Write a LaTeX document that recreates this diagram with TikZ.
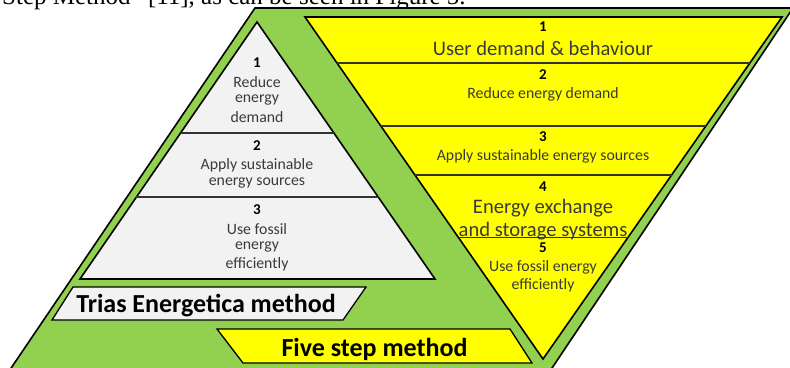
\documentclass[tikz,border=0pt]{standalone}
\usepackage{fontspec}
\setmainfont{Carlito}
\newfontfamily\serifpara{Liberation Serif}
\usetikzlibrary{calc}
\definecolor{grn}{HTML}{92D050}
\definecolor{yel}{HTML}{FFFF00}
\definecolor{lgray}{HTML}{F2F2F2}
\definecolor{txtg}{HTML}{3A3A3A}
\tikzset{
  outline/.style={draw=black, line width=1.6pt, line join=miter},
  divider/.style={draw=black!80, line width=1.1pt},
  num/.style={font=\fontsize{15}{16}\selectfont\bfseries, text=black, inner sep=0pt},
  small/.style={font=\fontsize{15.8}{17}\selectfont, text=txtg, inner sep=0pt},
  big/.style={font=\fontsize{20.6}{22}\selectfont, text=txtg, inner sep=0pt},
  mid/.style={font=\fontsize{20.6}{22}\selectfont, text=txtg, inner sep=0pt},
  label/.style={font=\fontsize{26}{28}\selectfont\bfseries, text=black, inner sep=0pt},
}
\begin{document}
\begin{tikzpicture}[x=1pt,y=-1pt]
\clip (0,0) rectangle (790,367);
% cropped text line of the surrounding page
\node[anchor=base west, inner sep=0pt, font=\serifpara\fontsize{25}{28}\selectfont] (para) at (2,4) {Step Method” [11], as can be seen in Figure 5.};
% green background parallelogram
\draw[outline, fill=grn] (255,8) -- (793,8) -- (544,380) -- (3,380) -- cycle;
% yellow inverted triangle
\coordinate (YA) at (305,17);
\coordinate (YB) at (782,17);
\coordinate (YC) at (543,359);
\draw[outline, fill=yel] (YA) -- (YB) -- (YC) -- cycle;
\foreach \t [count=\i] in {0.1345,0.3187,0.462,0.646}{
  \coordinate (yl\i) at ($(YA)!\t!(YC)$);
  \coordinate (yr\i) at ($(YB)!\t!(YC)$);
  \draw[divider] (yl\i) -- (yr\i);
}
% gray triangle
\coordinate (GA) at (257,22);
\coordinate (GB) at (80,279);
\coordinate (GC) at (435,279);
\draw[outline, fill=lgray] (GA) -- (GC) -- (GB) -- cycle;
\foreach \t [count=\i] in {0.432,0.681}{
  \coordinate (gl\i) at ($(GA)!\t!(GB)$);
  \coordinate (gr\i) at ($(GA)!\t!(GC)$);
  \draw[divider] (gl\i) -- (gr\i);
}
% label parallelograms
\draw[outline, line width=1.3pt, fill=lgray] (73,287) -- (366,287) -- (343,320) -- (52,320) -- cycle;
\draw[outline, line width=1.3pt, fill=yel] (217,329) -- (510,329) -- (532,363) -- (243,363) -- cycle;
\node[label] (trias) at (206,306) {Trias Energetica method};
\node[label] (five) at (374.5,349) {Five step method};
% gray triangle texts
\node[num] (g1) at (257,63) {1};
\node[small] (g1a) at (257,82) {Reduce};
\node[small] (g1b) at (257,100) {energy};
\node[small] (g1c) at (257,117) {demand};
\node[num] (g2) at (257,146) {2};
\node[small] (g2a) at (257,165) {Apply sustainable};
\node[small] (g2b) at (257,183) {energy sources};
\node[num] (g3) at (257,210) {3};
\node[small] (g3a) at (257,229) {Use fossil};
\node[small] (g3b) at (257,247) {energy};
\node[small] (g3c) at (257,264) {efficiently};
% yellow triangle texts
\node[num] (y1) at (543,27) {1};
\node[big] (y1a) at (543,48) {User demand \& behaviour};
\node[num] (y2) at (543,75) {2};
\node[small] (y2a) at (543,94) {Reduce energy demand};
\node[num] (y3) at (543,137) {3};
\node[small] (y3a) at (543,156) {Apply sustainable energy sources};
\node[num] (y4) at (543,187) {4};
\node[mid] (y4a) at (543,208) {Energy exchange};
\node[mid] (y4b) at (543,231) {and storage systems};
\node[num] (y5) at (543,248) {5};
\node[small] (y5a) at (543,267) {Use fossil energy};
\node[small] (y5b) at (543,285) {efficiently};
\end{tikzpicture}
\end{document}
